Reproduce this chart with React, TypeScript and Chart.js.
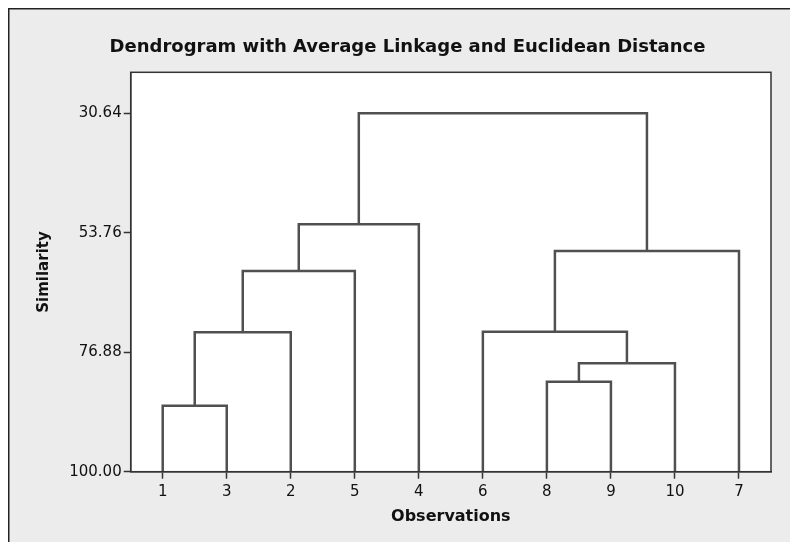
import React, { useEffect, useRef } from "react";
import { Chart, registerables } from "chart.js";

Chart.register(...registerables);

// Leaf order along the x axis (observation labels)
const leafOrder: string[] = ["1", "3", "2", "5", "4", "6", "8", "9", "10", "7"];

// Linkage: each merge joins two nodes (leaf labels or earlier merge names) at a similarity level
const mergeNames: string[] = ["A", "B", "C", "D", "E", "F", "G", "H", "I"];
const mergeLeft: string[] = ["1", "A", "B", "C", "8", "E", "6", "G", "D"];
const mergeRight: string[] = ["3", "2", "5", "4", "9", "10", "F", "7", "H"];
const mergeSimilarity: number[] = [87.23, 73.02, 61.16, 52.12, 82.58, 79.02, 72.9, 57.29, 30.64];

// Y-axis tick values
const yTicks: number[] = [30.64, 53.76, 76.88, 100.0];

const TITLE = "Dendrogram with Average Linkage and Euclidean Distance";
const FONT = "'DejaVu Sans', Verdana, sans-serif";

export default function App() {
  const canvasRef = useRef<HTMLCanvasElement | null>(null);

  useEffect(() => {
    if (!canvasRef.current) return;

    const pos: Record<string, { x: number; h: number }> = {};
    leafOrder.forEach((l, i) => (pos[l] = { x: i, h: 100 }));
    const datasets = mergeNames.map((name, k) => {
      const a = pos[mergeLeft[k]];
      const b = pos[mergeRight[k]];
      const h = mergeSimilarity[k];
      pos[name] = { x: (a.x + b.x) / 2, h };
      return {
        label: name,
        data: [
          { x: a.x, y: a.h },
          { x: a.x, y: h },
          { x: b.x, y: h },
          { x: b.x, y: b.h },
        ],
        borderColor: "#505050",
        borderWidth: 2.5,
        pointRadius: 0,
        fill: false,
        tension: 0,
        borderJoinStyle: "miter" as const,
        borderCapStyle: "butt" as const,
      };
    });

    const framePlugin = {
      id: "frame",
      beforeDraw(chart: any) {
        const { ctx, width, height, chartArea } = chart;
        ctx.save();
        ctx.fillStyle = "#ECECEC";
        ctx.fillRect(0, 0, width, height);
        ctx.strokeStyle = "#222";
        ctx.lineWidth = 1.5;
        ctx.beginPath();
        ctx.moveTo(0.75, height);
        ctx.lineTo(0.75, 0.75);
        ctx.lineTo(width, 0.75);
        ctx.stroke();
        ctx.fillStyle = "#FFFFFF";
        ctx.fillRect(chartArea.left, chartArea.top, chartArea.right - chartArea.left, chartArea.bottom - chartArea.top);
        ctx.restore();
      },
      afterDraw(chart: any) {
        const { ctx, chartArea } = chart;
        ctx.save();
        ctx.strokeStyle = "#333";
        ctx.lineWidth = 1.5;
        ctx.strokeRect(chartArea.left, chartArea.top, chartArea.right - chartArea.left, chartArea.bottom - chartArea.top);
        ctx.fillStyle = "#111";
        ctx.font = `bold 18px ${FONT}`;
        ctx.textAlign = "center";
        ctx.textBaseline = "middle";
        ctx.fillText(TITLE, 399.5, 39.5);
        ctx.restore();
      },
    };

    const chart = new Chart(canvasRef.current, {
      type: "line",
      data: { datasets },
      plugins: [framePlugin],
      options: {
        animation: false,
        responsive: true,
        maintainAspectRatio: false,
        layout: { padding: { left: 0, right: 27, top: 64.3, bottom: 0 } },
        plugins: {
          legend: { display: false },
          tooltip: { enabled: false },
          title: { display: false },
        },
        scales: {
          x: {
            type: "linear",
            min: -0.5,
            max: 9.5,
            afterBuildTicks: (scale: any) => {
              scale.ticks = leafOrder.map((_, i) => ({ value: i }));
            },
            afterFit: (scale: any) => {
              scale.height = 70.3;
            },
            ticks: {
              callback: (_v: any, i: number) => leafOrder[i],
              color: "#111",
              font: { family: FONT, size: 15 },
              padding: 4,
              maxRotation: 0,
              autoSkip: false,
            },
            grid: {
              drawOnChartArea: false,
              drawTicks: true,
              tickLength: 7,
              tickColor: "#333",
              tickWidth: 1.5,
            },
            border: { display: true, color: "#333", width: 1.5 },
            title: {
              display: true,
              text: "Observations",
              color: "#111",
              font: { family: FONT, size: 16, weight: "bold" },
              padding: { top: 0, bottom: 16 },
            },
          },
          y: {
            type: "linear",
            reverse: true,
            min: 22.7,
            max: 100,
            afterBuildTicks: (scale: any) => {
              scale.ticks = yTicks.map((v) => ({ value: v }));
            },
            afterFit: (scale: any) => {
              scale.width = 122.7;
            },
            ticks: {
              callback: (v: any) => Number(v).toFixed(2),
              color: "#111",
              font: { family: FONT, size: 15 },
              padding: 2,
            },
            grid: {
              drawOnChartArea: false,
              drawTicks: true,
              tickLength: 7,
              tickColor: "#333",
              tickWidth: 1.5,
            },
            border: { display: true, color: "#333", width: 1.5 },
            title: {
              display: true,
              text: "Similarity",
              color: "#111",
              font: { family: FONT, size: 15, weight: "bold" },
              padding: { top: 27.5, bottom: 0 },
            },
          },
        },
      },
    });

    return () => chart.destroy();
  }, []);

  return (
    <div style={{ width: 790, height: 534, position: "relative" }}>
      <canvas ref={canvasRef} />
    </div>
  );
}
